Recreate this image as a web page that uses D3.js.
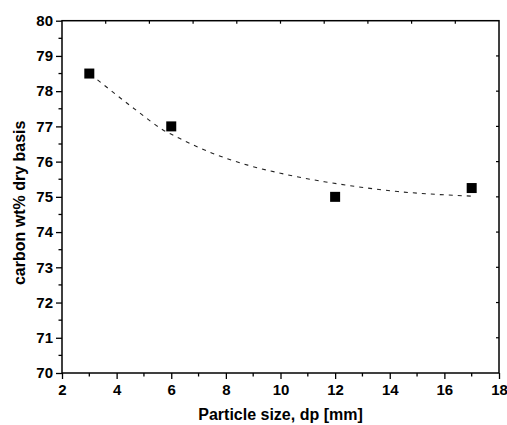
<!DOCTYPE html>
<html>
<head>
<meta charset="utf-8">
<script src="https://cdn.jsdelivr.net/npm/d3@7/dist/d3.min.js"></script>
<style>
  html, body { margin: 0; padding: 0; background: #fff; }
  svg { display: block; font-family: "Liberation Sans", Arial, sans-serif; }
</style>
</head>
<body>
<svg id="chart" width="507" height="425"></svg>
<script>
// Measured carbon content versus particle size
const particleSize = [3, 6, 12, 17];
const carbonWt = [78.5, 77.0, 75.0, 75.25];

// Exponential-decay trend line, sampled along its path
const trendX = [3.3, 4.7, 5.7, 6.3, 7.5, 8.8, 10.0, 11.6, 12.8, 14.3, 15.1, 17.0];
const trendY = [78.32, 77.47, 76.90, 76.66, 76.24, 75.90, 75.67, 75.43, 75.29, 75.15, 75.10, 75.02];

// Axis ticks
const xTicks = [2, 4, 6, 8, 10, 12, 14, 16, 18];
const yTicks = [70, 71, 72, 73, 74, 75, 76, 77, 78, 79, 80];

const margin = { left: 62, top: 20.7, right: 8, bottom: 52 };
const W = 507, H = 425;
const svg = d3.select("#chart");

const x = d3.scaleLinear().domain([2, 18]).range([margin.left, W - margin.right]);
const y = d3.scaleLinear().domain([70, 80]).range([H - margin.bottom, margin.top]);

const x0 = x.range()[0], x1 = x.range()[1];
const y0 = y.range()[0], y1 = y.range()[1];
const tickFont = 15;
const titleFont = 16;

// Bottom axis: major ticks labelled, minor ticks between
const xMinor = d3.range(3, 18, 2);
const gx = svg.append("g").attr("transform", `translate(0,${y0})`);
gx.call(d3.axisBottom(x).tickValues(xTicks).tickSize(6).tickPadding(5).tickFormat(d3.format("d")));
gx.call(g => g.select(".domain").remove());
gx.selectAll(".tick line").attr("stroke", "#000").attr("stroke-width", 1.3);
gx.selectAll(".tick text").attr("font-size", tickFont).attr("font-weight", "bold").attr("fill", "#000");
gx.selectAll(".minor").data(xMinor).enter().append("line")
  .attr("x1", d => x(d)).attr("x2", d => x(d)).attr("y1", 0).attr("y2", 3.5)
  .attr("stroke", "#000").attr("stroke-width", 1.3);

// Left axis
const yMinor = d3.range(70.5, 80, 1);
const gy = svg.append("g").attr("transform", `translate(${x0},0)`);
gy.call(d3.axisLeft(y).tickValues(yTicks).tickSize(6).tickPadding(3).tickFormat(d3.format("d")));
gy.call(g => g.select(".domain").remove());
gy.selectAll(".tick line").attr("stroke", "#000").attr("stroke-width", 1.3);
gy.selectAll(".tick text").attr("font-size", tickFont).attr("font-weight", "bold").attr("fill", "#000");
gy.selectAll(".minor").data(yMinor).enter().append("line")
  .attr("x1", 0).attr("x2", -3.5).attr("y1", d => y(d)).attr("y2", d => y(d))
  .attr("stroke", "#000").attr("stroke-width", 1.3);

// Top axis: short inward ticks at ten equal divisions
const xTop = d3.range(1, 10).map(i => 2 + i * 1.6);
svg.append("g").selectAll("line").data(xTop).enter().append("line")
  .attr("x1", d => x(d)).attr("x2", d => x(d)).attr("y1", y1).attr("y2", y1 + 3)
  .attr("stroke", "#000").attr("stroke-width", 1.2);

// Right axis: short inward ticks at each major value
svg.append("g").selectAll("line").data(yTicks.slice(1, -1)).enter().append("line")
  .attr("x1", x1).attr("x2", x1 - 3).attr("y1", d => y(d)).attr("y2", d => y(d))
  .attr("stroke", "#000").attr("stroke-width", 1.2);

// Frame
svg.append("rect")
  .attr("x", x0).attr("y", y1).attr("width", x1 - x0).attr("height", y0 - y1)
  .attr("fill", "none").attr("stroke", "#000").attr("stroke-width", 1.5);

// Trend line
const trend = trendX.map((v, i) => [v, trendY[i]]);
svg.append("path")
  .datum(trend)
  .attr("d", d3.line().x(d => x(d[0])).y(d => y(d[1])).curve(d3.curveMonotoneX))
  .attr("fill", "none").attr("stroke", "#222").attr("stroke-width", 1.1)
  .attr("stroke-dasharray", "4,5");

// Data markers
const s = 10;
svg.append("g").selectAll("rect").data(particleSize).enter().append("rect")
  .attr("x", (d) => x(d) - s / 2)
  .attr("y", (d, i) => y(carbonWt[i]) - s / 2)
  .attr("width", s).attr("height", s)
  .attr("fill", "#000");

// Axis titles
svg.append("text")
  .attr("x", (x0 + x1) / 2).attr("y", 420)
  .attr("text-anchor", "middle").attr("font-size", titleFont).attr("font-weight", "bold")
  .text("Particle size, dp [mm]");

svg.append("text")
  .attr("transform", `translate(25,${(y0 + y1) / 2 + 6}) rotate(-90)`)
  .attr("text-anchor", "middle").attr("font-size", titleFont).attr("font-weight", "bold")
  .text("carbon wt% dry basis");
</script>
</body>
</html>
